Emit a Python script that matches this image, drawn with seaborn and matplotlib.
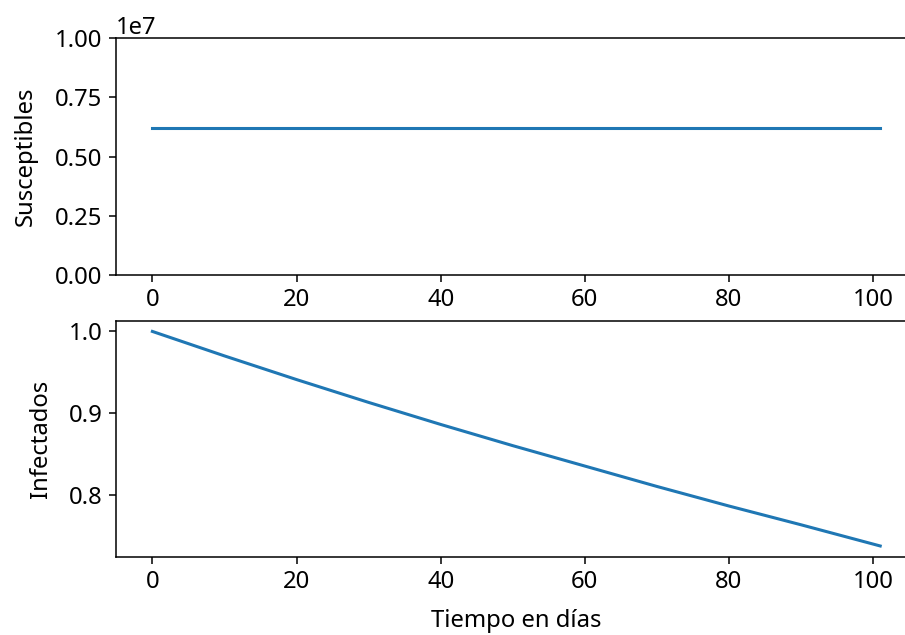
import matplotlib
matplotlib.use("Agg")
import matplotlib.pyplot as plt
import seaborn as sns
import pandas as pd

# Data
dias_s = [0, 101]
susceptibles = [6.22e6, 6.22e6]

dias_i = [0, 10, 20, 30, 40, 50, 60, 70, 80, 90, 101]
infectados = [1.000, 0.970, 0.941, 0.913, 0.886, 0.860, 0.835, 0.810, 0.786, 0.763, 0.737]

plt.rcParams['font.family'] = ['Noto Sans', 'DejaVu Sans']
plt.rcParams['font.size'] = 17.2
plt.rcParams['xtick.major.size'] = 5.2
plt.rcParams['ytick.major.size'] = 5.2
plt.rcParams['xtick.major.width'] = 1.1
plt.rcParams['ytick.major.width'] = 1.1
plt.rcParams['xtick.major.pad'] = 4.5
plt.rcParams['ytick.major.pad'] = 4.5
plt.rcParams['axes.linewidth'] = 1.1

df_s = pd.DataFrame({"t": dias_s, "S": susceptibles})
df_i = pd.DataFrame({"t": dias_i, "I": infectados})

fig = plt.figure(figsize=(9.05, 6.35), dpi=100)
ax1 = fig.add_axes([116/905, 1-275/635, (916.6-116)/905, (275-38.3)/635])
ax2 = fig.add_axes([116/905, 1-556.7/635, (916.6-116)/905, (556.7-320.7)/635])

color = "#1f77b4"
sns.lineplot(data=df_s, x="t", y="S", ax=ax1, color=color, linewidth=2.2)
sns.lineplot(data=df_i, x="t", y="I", ax=ax2, color=color, linewidth=2.2)

ax1.set_ylim(0, 1e7)
ax1.set_yticks([0, 0.25e7, 0.5e7, 0.75e7, 1e7])
ax1.set_xlim(-5.05, 106.05)
ax2.set_xlim(-5.05, 106.05)
ax1.set_xticks([0, 20, 40, 60, 80, 100])
ax2.set_xticks([0, 20, 40, 60, 80, 100])
ax2.set_yticks([0.8, 0.9, 1.0])

ax1.set_ylabel("Susceptibles", labelpad=12.5)
ax1.set_xlabel("")
ax2.set_ylabel("Infectados", labelpad=11)
ax2.set_xlabel("Tiempo en días", labelpad=10.5)

fig.savefig("out.png", dpi=100)
